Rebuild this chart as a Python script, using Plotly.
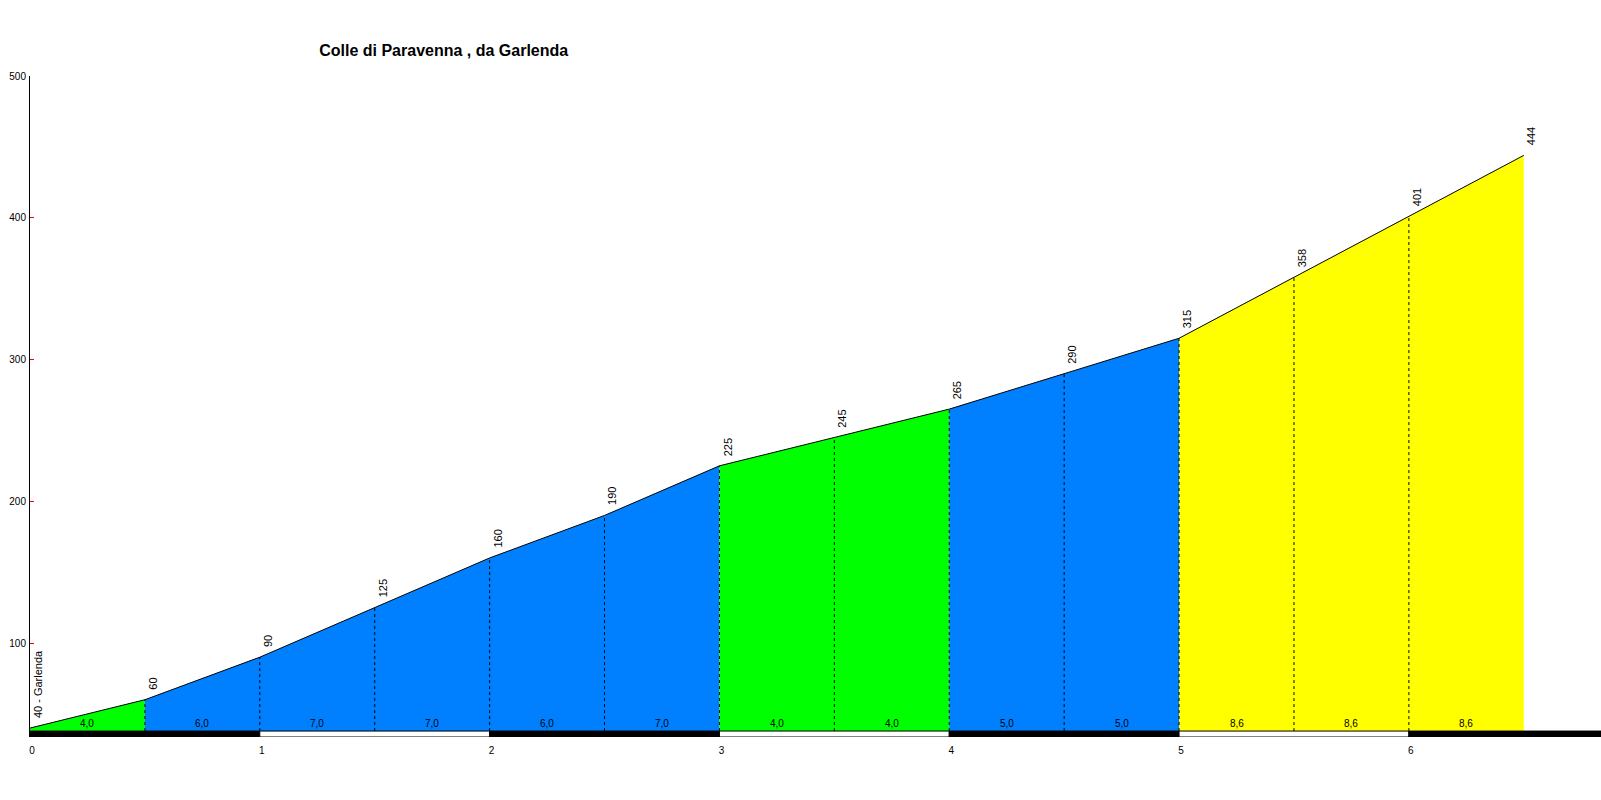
import plotly.graph_objects as go

# ---- data ----
km = [0.0, 0.5, 1.0, 1.5, 2.0, 2.5, 3.0, 3.5, 4.0, 4.5, 5.0, 5.5, 6.0, 6.5]
elev = [40, 60, 90, 125, 160, 190, 225, 245, 265, 290, 315, 358, 401, 444]
grad = [4.0, 6.0, 7.0, 7.0, 6.0, 7.0, 4.0, 4.0, 5.0, 5.0, 8.6, 8.6, 8.6]
start_label = "40 - Garlenda"
title = "Colle di Paravenna , da Garlenda"
x_ticks = [0, 1, 2, 3, 4, 5, 6]
y_ticks = [100, 200, 300, 400, 500]

# ---- style ----
BASE = 37.9
Y_MIN, Y_MAX = 33.7, 500
X_MAX = 6.836
FONT = "Arial, Liberation Sans, sans-serif"


def seg_color(g):
    if g < 5:
        return "#00FF00"
    if g < 8:
        return "#0080FF"
    return "#FFFF00"


fig = go.Figure()

# merge consecutive segments of the same colour into one polygon
runs = []
i = 0
while i < len(grad):
    c = seg_color(grad[i])
    j = i
    while j + 1 < len(grad) and seg_color(grad[j + 1]) == c:
        j += 1
    runs.append((i, j + 1, c))
    i = j + 1

for a, b, c in runs:
    xs = [km[a]] + km[a:b + 1] + [km[b]]
    ys = [BASE] + elev[a:b + 1] + [BASE]
    fig.add_trace(go.Scatter(x=xs, y=ys, fill="toself", fillcolor=c,
                             line=dict(width=0), mode="lines",
                             hoverinfo="skip", showlegend=False))

# dashed verticals
dx, dy = [], []
for k, e in zip(km[1:-1], elev[1:-1]):
    dx += [k, k, None]
    dy += [BASE, e, None]
fig.add_trace(go.Scatter(x=dx, y=dy, mode="lines",
                         line=dict(color="black", width=1, dash="3px,3px"),
                         hoverinfo="skip", showlegend=False))

# profile line
fig.add_trace(go.Scatter(x=km, y=elev, mode="lines",
                         line=dict(color="black", width=1),
                         showlegend=False))

# bottom km bar
shapes = []
for t in x_ticks:
    x1 = X_MAX if t == x_ticks[-1] else t + 1
    black = (t % 2 == 0)
    shapes.append(dict(type="rect", xref="x", yref="y", x0=t, x1=x1,
                       y0=Y_MIN, y1=BASE,
                       fillcolor="black" if black else "white",
                       line=dict(color="black", width=1)))

annotations = []
# gradient labels
for i, g in enumerate(grad):
    annotations.append(dict(x=(km[i] + km[i + 1]) / 2, y=BASE, xref="x", yref="y",
                             text=f"{g:.1f}".replace(".", ","), showarrow=False,
                             yanchor="bottom", yshift=0,
                             font=dict(family=FONT, size=10, color="black")))
# elevation labels
for i, (k, e) in enumerate(zip(km, elev)):
    txt = start_label if i == 0 else str(e)
    annotations.append(dict(x=k, y=e, xref="x", yref="y", text=txt,
                             showarrow=False, textangle=-90,
                             xanchor="center", yanchor="bottom",
                             xshift=8, yshift=8,
                             font=dict(family=FONT, size=11, color="black")))

fig.update_layout(
    width=1601, height=800,
    margin=dict(l=30, r=0, t=76, b=63),
    paper_bgcolor="white", plot_bgcolor="white",
    title=dict(text="<b>" + title + "</b>", x=443.7 / 1601, xanchor="center",
               y=1 - 50 / 800, yanchor="middle", xref="container",
               font=dict(family=FONT, size=16, color="black")),
    shapes=shapes,
    annotations=annotations,
    hovermode=False,
    xaxis=dict(range=[0, X_MAX], tickvals=x_ticks, ticktext=[str(t) for t in x_ticks],
               showgrid=False, zeroline=False, showline=False, ticks="",
               tickfont=dict(family=FONT, size=10, color="black"),
               ticklabelshift=2, ticklabelstandoff=6, automargin=False),
    yaxis=dict(range=[Y_MIN, Y_MAX], tickvals=y_ticks, ticktext=[str(t) for t in y_ticks],
               showgrid=False, zeroline=False, showline=True, linecolor="black",
               linewidth=1, ticks="inside", tickcolor="red", ticklen=4,
               tickfont=dict(family=FONT, size=10, color="black"),
               ticklabelstandoff=1, automargin=False),
)

fig.write_html("out.html",
               config={"displayModeBar": False},
               post_script="document.body.style.margin='0px';"
                           "document.body.style.overflow='hidden';")
